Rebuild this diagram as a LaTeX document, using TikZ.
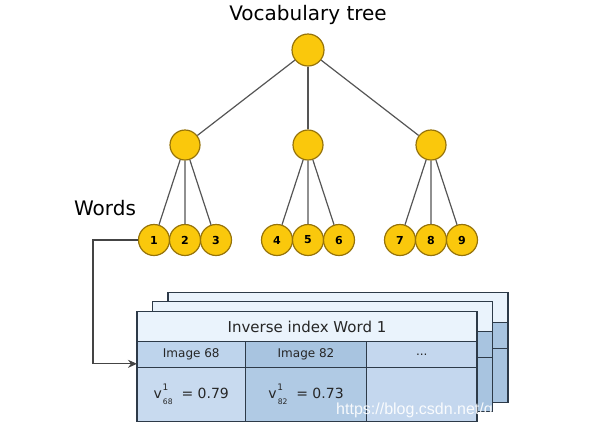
\documentclass[tikz,border=0pt]{standalone}
\usepackage{fontspec}
\setmainfont{DejaVu Sans}
\newfontfamily\wmfont{Liberation Sans}
\usetikzlibrary{arrows.meta,positioning}
\definecolor{vocgold}{RGB}{250,200,12}
\definecolor{vocrim}{RGB}{150,115,10}
\definecolor{edgegray}{RGB}{85,85,85}
\definecolor{hdrblue}{RGB}{234,243,252}
\definecolor{cellA}{RGB}{190,212,236}
\definecolor{cellB}{RGB}{168,196,224}
\definecolor{cellC}{RGB}{196,215,238}
\definecolor{rowA}{RGB}{200,218,239}
\definecolor{rowB}{RGB}{176,202,228}
\definecolor{gridline}{RGB}{45,58,72}

% one inverse index sheet: prefix, x, y, colour of last column
\newcommand{\idxtable}[4]{%
  \node[cell,minimum width=170pt,minimum height=15pt,fill=hdrblue] (#1h) at (#2,#3) {};
  \node[cell,wA,hB,fill=cellA] (#1a) at (#1h.south west) {};
  \node[cell,wB,hB,fill=cellB] (#1b) at (#1a.north east) {};
  \node[cell,wC,hB,fill=#4] (#1c) at (#1b.north east) {};
  \node[cell,wA,hC,fill=rowA] (#1d) at (#1a.south west) {};
  \node[cell,wB,hC,fill=rowB] (#1e) at (#1b.south west) {};
  \node[cell,wC,hC,fill=#4] (#1f) at (#1c.south west) {};
}
% weight symbol v with word index 1 and image number
\newcommand{\wgt}[1]{v\kern0.4pt\raisebox{3.8pt}{\fontsize{4.5}{5}\selectfont 1}\kern-2.7pt\raisebox{-3.4pt}{\fontsize{3.8}{4}\selectfont #1}}

\begin{document}
\begin{tikzpicture}[x=0.5pt,y=-0.5pt,
   voc/.style={circle,draw=vocrim,fill=vocgold,line width=0.6pt,inner sep=0pt,
               font=\fontsize{5.5}{6}\selectfont\bfseries},
   edge/.style={draw=edgegray,line width=0.6pt},
   cell/.style={draw=gridline,line width=0.6pt,inner sep=0pt,outer sep=0pt,anchor=north west},
   wA/.style={minimum width=54.25pt},wB/.style={minimum width=60.5pt},wC/.style={minimum width=55.25pt},
   hB/.style={minimum height=12.85pt},hC/.style={minimum height=27pt},
   lbl/.style={font=\fontsize{6}{7}\selectfont,text=black!85},
   val/.style={font=\fontsize{7}{8}\selectfont,text=black!85}]
  \useasboundingbox (0,0) rectangle (592,430);
  \node[font=\fontsize{10}{12}\selectfont] (title) at (308,15) {Vocabulary tree};
  \node[font=\fontsize{10}{12}\selectfont] (words) at (105,208) {Words};

  % tree
  \node[voc,minimum size=16pt] (root) at (308,50) {};
  \node[voc,minimum size=15pt] (m1) at (185,145) {};
  \node[voc,minimum size=15pt] (m2) at (308,145) {};
  \node[voc,minimum size=15pt] (m3) at (431,145) {};
  \foreach \n/\x in {1/154,2/185,3/216,4/277,5/308,6/339,7/400,8/431,9/462}
    \node[voc,minimum size=15.5pt] (w\n) at (\x,240) {\n};
  \foreach \m in {m1,m2,m3}
    \draw[edge] (root) -- (\m);
  \foreach \m/\a/\b/\c in {m1/w1/w2/w3,m2/w4/w5/w6,m3/w7/w8/w9}
    \draw[edge] (\m) -- (\a) (\m) -- (\b) (\m) -- (\c);

  % inverse index sheets
  \idxtable{T}{168}{292.7}{cellB}
  \idxtable{S}{152.5}{301.5}{cellB}
  \idxtable{F}{137}{311.7}{cellC}
  \node[font=\fontsize{7.5}{9}\selectfont,text=black!85] at (Fh) {Inverse index Word 1};
  \node[lbl] at (Fa) {Image 68};
  \node[lbl] at (Fb) {Image 82};
  \node[lbl] at (Fc) {...};
  \node[val] at (Fd) {\wgt{68}~~= 0.79};
  \node[val] at (Fe) {\wgt{82}~~= 0.73};

  \coordinate (bend) at (93,240);
  \draw[edgegray!80!black,line width=0.65pt,-{Stealth[length=4.5pt,width=4pt]}]
    (w1) -- (bend) |- ([yshift=1.8pt]Fa.south west);

  \node[font=\wmfont\fontsize{8}{9}\selectfont,text=white,opacity=0.9] (wm) at (459,410)
    {https://blog.csdn.net/qq\_44047943};
\end{tikzpicture}
\end{document}
